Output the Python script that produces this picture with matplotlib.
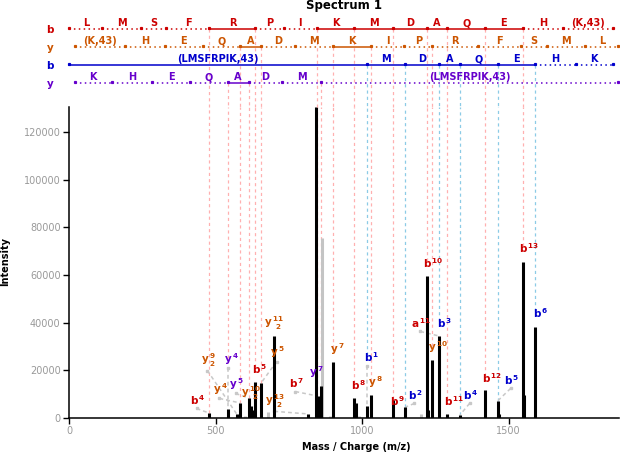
import matplotlib
matplotlib.use('Agg')
import matplotlib.pyplot as plt
import numpy as np

plt.rcParams['font.family'] = ['DejaVu Sans']
plt.rcParams['mathtext.fontset'] = 'dejavusans'

# peptide 1 / peptide 2 residues and monoisotopic residue masses
pep1_res = ['L', 'M', 'S', 'F', 'R', 'P', 'I', 'K', 'M', 'D', 'A', 'Q', 'E', 'H', '(K,43)']
pep1_mass = [113.084, 131.040, 87.032, 147.068, 156.101, 97.053, 113.084, 128.095,
             131.040, 115.027, 71.037, 128.059, 129.043, 137.059, 171.101]
pep2_res = ['(LMSFRPIK,43)', 'M', 'D', 'A', 'Q', 'E', 'H', 'K']
pep2_mass = [1015.563, 131.040, 115.027, 71.037, 128.059, 129.043, 137.059, 128.095]
PROTON = 1.007
WATER_H = 19.018

# observed singly charged fragment ions (index) per sequence row
p1b_obs = [4, 5, 7, 8, 9, 10, 11, 12, 13]
p1y_obs = [4, 5, 7, 8, 10]
p2b_obs = [1, 2, 3, 4, 5, 6]
p2y_obs = [4, 5, 7]

# peaks
peak_mz = [479.2, 541.3, 571.8, 584.3, 612.3, 620.3, 625.5, 635.3, 655.3, 698.4,
           815.4, 843.3, 848.5, 858.4, 901.4, 973.6, 979.6, 1016.6, 1029.5, 1104.6,
           1147.6, 1219.6, 1225.0, 1239.6, 1262.6, 1290.7, 1333.7, 1418.7, 1461.7, 1466.5,
           1547.8, 1551.8, 1590.8]
peak_int = [2000, 3800, 1700, 6300, 8400, 5000, 3400, 15100, 14700, 34400,
            1700, 130500, 9200, 13400, 23500, 8400, 6400, 5000, 9600, 7500,
            4600, 59700, 3400, 24300, 34400, 1700, 1300, 11700, 7100, 1800,
            65400, 9600, 38200]
gray_mz = [601.0, 679.7, 864.6, 890.2, 989.0, 1199.5]
gray_int = [700, 2500, 75500, 1000, 900, 1700]

# annotations
ann_series = ['p1b', 'p1b', 'p1b', 'p1b', 'p1b', 'p1b', 'p1a', 'p1b', 'p1b', 'p1b',
              'p1y', 'p1y', 'p1y', 'p1y', 'p1y', 'p1y', 'p1y', 'p1y', 'p1y',
              'p2b', 'p2b', 'p2b', 'p2b', 'p2b', 'p2b',
              'p2y', 'p2y', 'p2y']
ann_num = [4, 5, 7, 8, 9, 10, 11, 11, 12, 13,
           9, 4, 10, 5, 11, 13, 7, 8, 10,
           1, 2, 3, 4, 5, 6,
           4, 5, 7]
ann_charge = [1, 1, 1, 1, 1, 1, 1, 1, 1, 1,
              2, 1, 2, 1, 2, 2, 1, 1, 1,
              1, 1, 1, 1, 1, 1,
              1, 1, 1]
ann_mz = [479.2, 635.3, 848.5, 973.6, 1104.6, 1219.6, 1262.6, 1290.7, 1418.7, 1547.8,
          571.8, 584.3, 620.3, 655.3, 698.4, 815.4, 901.4, 1029.5, 1239.6,
          1016.6, 1147.6, 1262.6, 1333.7, 1461.7, 1590.8,
          541.3, 612.3, 858.4]
ann_lx = [413, 624, 750, 962, 1095, 1207, 1166, 1279, 1408, 1535,
          450, 491, 587, 686, 665, 668, 890, 1020, 1224,
          1006, 1156, 1255, 1344, 1484, 1582,
          529, 546, 818]
ann_ly = [4600, 17600, 11700, 10900, 4200, 62000, 36900, 4200, 13800, 68300,
          20500, 8800, 6700, 24300, 36000, 3400, 25600, 11700, 26400,
          22600, 6700, 36900, 6700, 13000, 41100,
          21400, 10900, 15900]

colors = {'p1b': '#cc0000', 'p1a': '#cc0000', 'p1y': '#cc5500', 'p2b': '#0000cc', 'p2y': '#6600cc'}
guide = {'p1b': '#ffb0b0', 'p1y': '#ffb0b0', 'p2b': '#8ccbe6', 'p2y': '#ffb0b0'}

XMAX = 1876
YMAX = 130500
PX = 0.2932  # px per m/z unit

fig = plt.figure(figsize=(6.2, 4.53), dpi=100)
ax = fig.add_axes([69 / 620, 35 / 453, 550 / 620, 311 / 453])
axs = fig.add_axes([69 / 620, 346 / 453, 550 / 620, 92 / 453], sharex=ax)
ax.set_xlim(0, XMAX)
ax.set_ylim(0, YMAX)
axs.set_ylim(107, 15)
axs.axis('off')

# peaks
ax.vlines(gray_mz, 0, gray_int, colors='#c4c4c4', lw=2.2, zorder=2)
ax.vlines(peak_mz, 0, peak_int, colors='black', lw=2.2, zorder=3)
pk = dict(zip(peak_mz, peak_int))


def ion_tex(letter, num, charge):
    if charge == 1:
        return r'$\mathbf{%s}^{\,\mathbf{%d}}$' % (letter, num)
    return r'$\mathbf{%s}\,\genfrac{}{}{0}{}{\mathbf{%d}}{\mathbf{%d}}$' % (letter, num, charge)


line_end = {}
for s, n, z, mz, lx, ly in zip(ann_series, ann_num, ann_charge, ann_mz, ann_lx, ann_ly):
    ax.text(lx, ly, ion_tex(s[-1], n, z), color=colors[s], fontsize=7.5,
            ha='left', va='bottom', zorder=5)
    w = (13 + 6 * (len(str(n)) - 1)) / PX
    covers = lx <= mz <= lx + w
    top = pk[mz]
    if not covers or ly - top > 5000:
        x0 = mz if covers else lx + w / 2
        ax.plot([x0, mz], [ly - 600, top], color='#c8c8c8', ls=(0, (2.5, 2)), lw=1.1, zorder=1)
        ax.plot([x0], [ly - 600], 's', color='#c8c8c8', ms=1.5, zorder=1)
    if z == 1:
        line_end[(s, n)] = ly + 3800 if covers else top

# sequence rows
rows = [
    ('p1b', pep1_res, pep1_mass, PROTON, p1b_obs, 29),
    ('p1y', pep1_res[::-1], pep1_mass[::-1], WATER_H, p1y_obs, 47),
    ('p2b', pep2_res, pep2_mass, PROTON, p2b_obs, 65),
    ('p2y', pep2_res[::-1], pep2_mass[::-1], WATER_H, p2y_obs, 83),
]
for s, res, mass, start, obs, yl in rows:
    c = colors[s]
    bnd = start + np.concatenate([[0], np.cumsum(mass)])
    n = len(res)
    seen = set(obs) | {0}
    for i in range(1, n + 1):
        solid = (i - 1) in seen and i in seen
        axs.plot([bnd[i - 1], bnd[i]], [yl, yl], color=c, lw=1.1,
                 ls='-' if solid else (0, (1, 2.2)), clip_on=False)
        axs.text((bnd[i - 1] + bnd[i]) / 2, yl - 5.5, res[i - 1], color=c, fontsize=7,
                 fontweight='bold', ha='center', va='center')
    axs.plot(bnd, [yl - 0.8] * len(bnd), 's', color=c, ms=1.3, clip_on=False)
    axs.text(-0.0345, yl + 1, s[-1], color=c, fontsize=7.5, fontweight='bold',
             ha='center', va='center', transform=axs.get_yaxis_transform())
    for i in obs:
        x = bnd[i]
        axs.plot([x, x], [yl, 107], color=guide[s], ls=(0, (2.5, 2.5)), lw=0.9,
                 clip_on=False, zorder=0)
        ax.plot([x, x], [line_end[(s, i)], YMAX], color=guide[s], ls=(0, (2.5, 2.5)),
                lw=0.9, zorder=0)

# axes styling
for side in ['top', 'right']:
    ax.spines[side].set_visible(False)
for side in ['left', 'bottom']:
    ax.spines[side].set_linewidth(1.1)
ax.set_xticks([0, 500, 1000, 1500])
ax.set_yticks(range(0, 120001, 20000))
ax.tick_params(labelsize=7, labelcolor='#999999', length=4, width=1, pad=2)

fig.text(344 / 620, 1 - 6 / 453, 'Spectrum 1', ha='center', va='center',
         fontsize=8.5, fontweight='bold')
fig.text(356 / 620, 1 - 447 / 453, 'Mass / Charge (m/z)', ha='center', va='center',
         fontsize=7, fontweight='bold')
fig.text(5 / 620, 1 - 262 / 453, 'Intensity', ha='center', va='center',
         fontsize=7, fontweight='bold', rotation=90)

fig.savefig('out.png', dpi=100)
